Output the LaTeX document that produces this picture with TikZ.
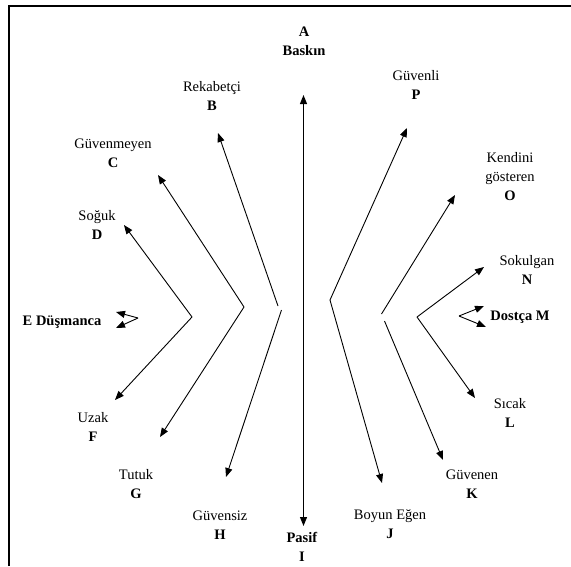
\documentclass[tikz,border=0pt]{standalone}
\usepackage{fontspec}
\setmainfont{Liberation Serif}
\usetikzlibrary{arrows.meta}
\begin{document}
\begin{tikzpicture}[x=1pt,y=-1pt,
  lbl/.style={align=center,inner sep=0pt,font=\fontsize{14.5}{19}\selectfont},
  arr/.style={line width=0.9pt,-{Triangle[length=9pt,width=7pt]}},
  dbl/.style={line width=1.1pt,{Triangle[length=9pt,width=7pt]}-{Triangle[length=9pt,width=7pt]}},
  frame/.style={line width=1.3pt}]
\useasboundingbox (0,0) rectangle (571,566);
\draw[frame] (9,566) -- (9,6) -- (571,6);

% labels
\node[lbl] (A) at (304,41.5) {\textbf{A}\\\textbf{Baskın}};
\node[lbl] (B) at (212,96) {Rekabetçi\\\textbf{B}};
\node[lbl] (P) at (416,85) {Güvenli\\\textbf{P}};
\node[lbl] (C) at (113,153) {Güvenmeyen\\\textbf{C}};
\node[lbl] (D) at (97,225) {Soğuk\\\textbf{D}};
\node[lbl] (E) at (62,322) {\textbf{E Düşmanca}};
\node[lbl] (O) at (510,177) {Kendini\\gösteren\\\textbf{O}};
\node[lbl] (N) at (527,270) {Sokulgan\\\textbf{N}};
\node[lbl] (M) at (520,317) {\textbf{Dostça M}};
\node[lbl] (F) at (93,427) {Uzak\\\textbf{F}};
\node[lbl] (G) at (136,484) {Tutuk\\\textbf{G}};
\node[lbl] (H) at (220,525) {Güvensiz\\\textbf{H}};
\node[lbl] (I) at (302,547) {\textbf{Pasif}\\\textbf{I}};
\node[lbl] (J) at (390,524) {Boyun Eğen\\\textbf{J}};
\node[lbl] (K) at (472,484) {Güvenen\\\textbf{K}};
\node[lbl] (L) at (510,413) {Sıcak\\\textbf{L}};

% central axis
\coordinate (axT) at (303.5,95);
\coordinate (axB) at (303.5,526);
\draw[dbl] (axB) -- (axT);

% left chevrons
\coordinate (bhU) at (278,306); \coordinate (bhL) at (281.5,310);
\coordinate (tB) at (218,133); \coordinate (tH) at (226,477);
\draw[arr] (bhU) -- (tB);
\draw[arr] (bhL) -- (tH);

\coordinate (cg) at (244,307);
\coordinate (tC) at (158,175); \coordinate (tG) at (160,437);
\draw[arr] (cg) -- (tC);
\draw[arr] (cg) -- (tG);

\coordinate (df) at (192,317);
\coordinate (tD) at (124,225); \coordinate (tF) at (115,400);
\draw[arr] (df) -- (tD);
\draw[arr] (df) -- (tF);

\coordinate (ee) at (138,318);
\coordinate (tE1) at (116,312); \coordinate (tE2) at (116,328);
\draw[arr] (ee) -- (tE1);
\draw[arr] (ee) -- (tE2);

% right chevrons
\coordinate (pj) at (330,300);
\coordinate (tP) at (407,128); \coordinate (tJ) at (382,483);
\draw[arr] (pj) -- (tP);
\draw[arr] (pj) -- (tJ);

\coordinate (okU) at (381.5,314); \coordinate (okL) at (384.5,321);
\coordinate (tO) at (455,195); \coordinate (tK) at (443,460);
\draw[arr] (okU) -- (tO);
\draw[arr] (okL) -- (tK);

\coordinate (nl) at (417,317);
\coordinate (tN) at (484,267); \coordinate (tL) at (475,398);
\draw[arr] (nl) -- (tN);
\draw[arr] (nl) -- (tL);

\coordinate (mm) at (459,316);
\coordinate (tM1) at (484,306); \coordinate (tM2) at (486,327);
\draw[arr] (mm) -- (tM1);
\draw[arr] (mm) -- (tM2);
\end{tikzpicture}
\end{document}
